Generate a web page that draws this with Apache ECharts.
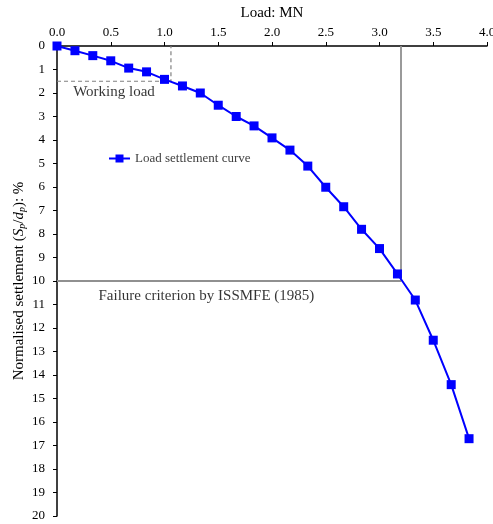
<!DOCTYPE html>
<html><head><meta charset="utf-8">
<script src="https://cdn.jsdelivr.net/npm/echarts@6/dist/echarts.min.js"></script>
<style>html,body{margin:0;padding:0;background:#fff}#c{width:493px;height:524px}</style>
</head><body><div id="c"></div>
<script>
var loadMN = [0, 0.167, 0.333, 0.5, 0.667, 0.833, 1.0, 1.167, 1.333, 1.5, 1.667, 1.833, 2.0, 2.167, 2.333, 2.5, 2.667, 2.833, 3.0, 3.167, 3.333, 3.5, 3.667, 3.833];
var settlement = [0, 0.2, 0.41, 0.63, 0.94, 1.1, 1.42, 1.70, 2.0, 2.52, 3.0, 3.40, 3.91, 4.43, 5.11, 6.01, 6.84, 7.8, 8.62, 9.70, 10.81, 12.52, 14.41, 16.71];
var workingLoadX = [0, 1.06, 1.06];
var workingLoadY = [1.5, 1.5, 0];
var failureX = [0, 3.2, 3.2];
var failureY = [10, 10, 0];
var annotX = [0.53, 1.39];
var annotY = [1.96, 10.64];
var annotText = ['Working load', 'Failure criterion by ISSMFE (1985)'];

function zip(a, b) { return a.map(function (v, i) { return [v, b[i]]; }); }
var font = 'Liberation Serif';
var chart = echarts.init(document.getElementById('c'));
chart.setOption({
  animation: false,
  textStyle: { fontFamily: font },
  grid: { left: 57, right: 6, top: 46, bottom: 8, containLabel: false, outerBoundsMode: 'none' },
  legend: {
    data: ['Load settlement curve'], left: 108, top: 152, padding: 0, itemWidth: 21, itemHeight: 10, itemGap: 4,
    textStyle: { fontFamily: font, fontSize: 13, color: '#404040' }
  },
  xAxis: {
    type: 'value', position: 'top', min: 0, max: 4, interval: 0.5,
    name: 'Load: MN', nameLocation: 'middle', nameGap: 25, nameMoveOverlap: false,
    nameTextStyle: { fontFamily: font, fontSize: 15, color: '#000' },
    axisLine: { lineStyle: { color: '#000', width: 1.5 } },
    axisTick: { lineStyle: { color: '#000' }, length: 4 },
    axisLabel: { fontFamily: font, fontSize: 13, color: '#000', formatter: function (v) { return v.toFixed(1); }, margin: 7 },
    splitLine: { show: false }
  },
  yAxis: {
    type: 'value', inverse: true, min: 0, max: 20, interval: 1,
    name: '{n|Normalised settlement (}{i|S}{s|p}{n|/}{i|d}{s|p}{n|): %}',
    nameLocation: 'middle', nameGap: 29, nameRotate: 90, nameMoveOverlap: false,
    nameTextStyle: {
      fontFamily: font, fontSize: 15, color: '#000',
      rich: {
        n: { fontFamily: font, fontSize: 15, color: '#000', lineHeight: 17 },
        i: { fontFamily: font, fontSize: 15, fontStyle: 'italic', color: '#000', lineHeight: 17 },
        s: { fontFamily: font, fontSize: 10, fontStyle: 'italic', color: '#000', lineHeight: 17, padding: [6, 0, 0, 0] }
      }
    },
    axisLine: { lineStyle: { color: '#000', width: 1.5 } },
    axisTick: { lineStyle: { color: '#000' }, length: 4 },
    axisLabel: { fontFamily: font, fontSize: 13, color: '#000', margin: 12 },
    splitLine: { show: false }
  },
  series: [
    {
      name: 'Working load', type: 'line', data: zip(workingLoadX, workingLoadY),
      symbol: 'none', lineStyle: { color: '#808080', width: 1.2, type: [4, 3] }, silent: true, z: 1
    },
    {
      name: 'Failure', type: 'line', data: zip(failureX, failureY),
      symbol: 'none', lineStyle: { color: '#909090', width: 1.8 }, silent: true, z: 1
    },
    {
      name: 'Annotations', type: 'scatter', data: zip(annotX, annotY), symbolSize: 0, silent: true,
      label: {
        show: true, position: 'inside', fontFamily: font, fontSize: 15, color: '#000',
        formatter: function (p) { return annotText[p.dataIndex]; }
      }
    },
    {
      name: 'Load settlement curve', type: 'line', data: zip(loadMN, settlement),
      symbol: 'rect', symbolSize: 9, itemStyle: { color: '#0000FF' },
      lineStyle: { color: '#0000FF', width: 2 }, z: 5
    }
  ]
});
</script></body></html>
